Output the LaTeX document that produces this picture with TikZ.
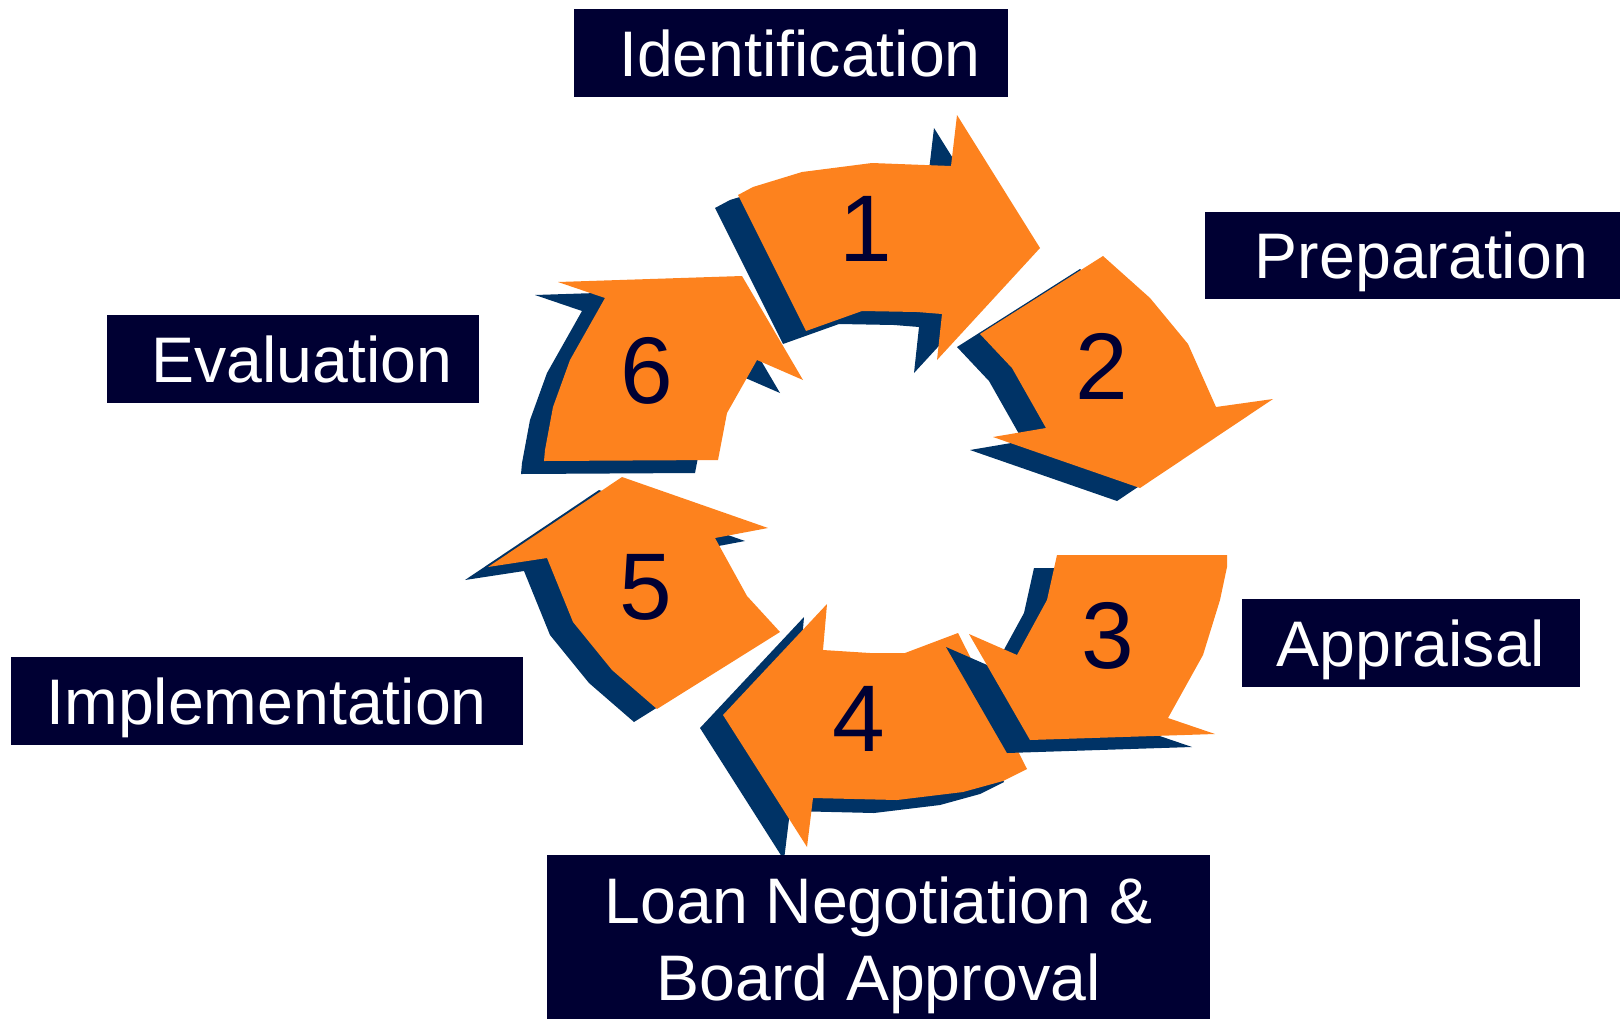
\documentclass[tikz,border=0pt]{standalone}
\usepackage{fontspec}
\setmainfont{Liberation Sans}
\definecolor{boxc}{RGB}{0,0,51}
\definecolor{orangec}{RGB}{253,130,30}
\definecolor{shadowc}{RGB}{0,51,102}
\definecolor{digitc}{RGB}{0,0,51}
\newcommand\ArrOne[1]{\fill[#1] (738,195) -- (753,187) -- (802,172) -- (872,163) -- (951,166) -- (957,115) -- (1040,248) -- (937,360) -- (942,314) -- (917,312) -- (862,311) -- (806,331) -- cycle;}
\newcommand\ArrTwo[1]{\fill[#1] (980,334) -- (1103,256) -- (1150,298) -- (1188,344) -- (1216,407) -- (1273,399) -- (1140,488) -- (993,437) -- (1046,428) -- (1012,368) -- cycle;}
\newcommand\ArrThree[1]{\fill[#1] (1057,555) -- (1227,555) -- (1227,567) -- (1220,600) -- (1203,655) -- (1168,718) -- (1215,734) -- (1030,740) -- (969,634) -- (1017,655) -- (1047,600) -- cycle;}
\newcommand\ArrFour[1]{\fill[#1] (958,633) -- (1027,769) -- (1003,781) -- (963,792) -- (897,800) -- (813,798) -- (807,847) -- (723,715) -- (827,604) -- (823,650) -- (870,653) -- (905,653) -- cycle;}
\newcommand\ArrFive[1]{\fill[#1] (622,477) -- (768,528) -- (715,538) -- (747,596) -- (780,632) -- (657,709) -- (612,670) -- (573,622) -- (547,558) -- (488,567) -- cycle;}
\newcommand\ArrSix[1]{\fill[#1] (558,282) -- (742,276) -- (803,380) -- (757,360) -- (727,413) -- (718,460) -- (544,461) -- (545,450) -- (553,407) -- (570,360) -- (605,298) -- cycle;}
\begin{document}
\begin{tikzpicture}[x=0.75pt,y=-0.75pt,
  shad/.style={fill=shadowc, shift={(-23,13)}},
  body/.style={fill=orangec},
  digit/.style={text=digitc, inner sep=0pt, font=\fontsize{71}{71}\selectfont},
  labelbox/.style={fill=boxc, text=white, inner sep=0pt, font=\fontsize{48.3}{57.75}\selectfont},
  oneline/.style={labelbox, text height=34.6pt, text depth=0pt}]
\useasboundingbox (0,0) rectangle (1623,1018);
% arrows: shadow first, then orange body
\ArrOne{shad}\ArrOne{body}
\ArrTwo{shad}\ArrTwo{body}
\ArrFour{shad}\ArrFour{body}
\ArrThree{shad}\ArrThree{body}
\ArrFive{shad}\ArrFive{body}
\ArrSix{shad}\ArrSix{body}
% numbers
\node[digit] (d1) at (866,229) {1};
\node[digit] (d2) at (1102,366) {2};
\node[digit] (d3) at (1108,636) {3};
\node[digit] (d4) at (859,719) {4};
\node[digit] (d5) at (646,587) {5};
\node[digit] (d6) at (647,371) {6};
% labels
\node[oneline, minimum width=434*0.75pt, minimum height=88*0.75pt] (ident) at (791,53) {~Identification};
\node[oneline, minimum width=415*0.75pt, minimum height=87*0.75pt] (prep) at (1412.5,255) {~Preparation};
\node[oneline, minimum width=338*0.75pt, minimum height=88*0.75pt] (appr) at (1411,643) {Appraisal};
\node[oneline, minimum width=372*0.75pt, minimum height=88*0.75pt] (eval) at (292.8,359) {~Evaluation};
\node[oneline, minimum width=512*0.75pt, minimum height=88*0.75pt] (impl) at (266.6,701) {Implementation};
\node[labelbox, align=center, minimum width=663*0.75pt, minimum height=181*0.75pt] (loan) at (878.5,945.5) {Loan Negotiation \&\\Board Approval};
\end{tikzpicture}
\end{document}
